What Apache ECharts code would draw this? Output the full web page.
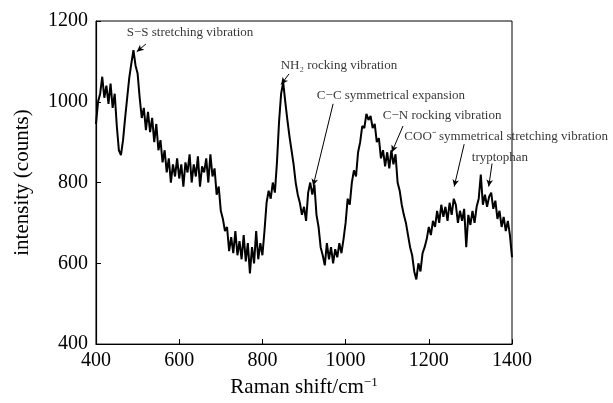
<!DOCTYPE html>
<html>
<head>
<meta charset="utf-8">
<script src="https://cdn.jsdelivr.net/npm/echarts@6/dist/echarts.min.js"></script>
<style>
  html, body { margin: 0; padding: 0; background: #fff; }
  #chart { width: 613px; height: 403px; }
</style>
</head>
<body>
<div id="chart"></div>
<script>
// Raman shift (cm-1) sample positions
const ramanShift = [
  400,405,410,415,420,425,430,435,440,445,450,455,460,465,470,475,480,485,490,495,
  500,505,510,515,520,525,530,535,540,545,550,555,560,565,570,575,580,585,590,595,
  600,605,610,615,620,625,630,635,640,645,650,655,660,665,670,675,680,685,690,695,
  700,705,710,715,720,725,730,735,740,745,750,755,760,765,770,775,780,785,790,795,
  800,805,810,815,820,825,830,835,840,845,850,855,860,865,870,875,880,885,890,895,
  900,905,910,915,920,925,930,935,940,945,950,955,960,965,970,975,980,985,990,995,
  1000,1005,1010,1015,1020,1025,1030,1035,1040,1045,1050,1055,1060,1065,1070,1075,1080,1085,1090,1095,
  1100,1105,1110,1115,1120,1125,1130,1135,1140,1145,1150,1155,1160,1165,1170,1175,1180,1185,1190,1195,
  1200,1205,1210,1215,1220,1225,1230,1235,1240,1245,1250,1255,1260,1265,1270,1275,1280,1285,1290,1295,
  1300,1305,1310,1315,1320,1325,1330,1335,1340,1345,1350,1355,1360,1365,1370,1375,1380,1385,1390,1395,
  1400
];
// intensity (counts)
const intensity = [
  945,1000,1020,1062,1010,1040,995,1045,985,1020,940,880,868,905,960,1010,1060,1095,1128,1090,
  1070,1010,960,985,930,975,925,960,900,945,880,905,850,880,825,860,800,845,815,860,
  810,845,790,850,825,870,800,845,815,865,790,840,825,860,800,870,815,835,770,790,
  730,710,680,690,630,665,625,680,620,655,610,670,605,650,575,640,600,680,610,650,
  620,680,750,780,760,800,775,850,950,1020,1048,1000,955,915,880,845,800,770,750,720,
  740,705,775,800,770,795,720,690,640,620,595,650,610,640,600,635,615,650,625,660,
  700,760,745,800,830,815,875,900,940,935,970,955,965,935,945,900,910,860,880,840,
  875,835,880,845,870,800,780,745,720,700,670,640,620,580,560,600,580,625,640,660,
  690,670,705,690,730,700,745,715,740,705,750,720,760,745,700,730,705,735,640,720,
  695,730,700,740,760,820,745,770,740,765,775,735,755,710,730,690,715,680,705,670,
  615
];

// annotations: label text, label position, arrow start, arrow end (data coords)
const annoText = [
  'S\u2212S stretching vibration',
  'NH\u2082 rocking vibration',
  'C\u2212C symmetrical expansion',
  'C\u2212N rocking vibration',
  'COO\u207B symmetrical stretching vibration',
  'tryptophan'
];
const annoPos = [[626, 1171], [984, 1090], [1109, 1016], [1232, 966], [1386, 914], [1371, 861]];
const arrowFrom = [[520, 1143], [864, 1069], [970, 995], [1138, 940], [1285, 895], [1352, 847]];
const arrowTo = [[498, 1124], [845, 1043], [922, 792], [1111, 875], [1261, 790], [1344, 790]];

const xTicks = [400, 1400, 200];
const yTicks = [400, 1200, 200];

const FONT = '"Liberation Serif", "Times New Roman", serif';

const chart = echarts.init(document.getElementById('chart'), null, { renderer: 'canvas' });

const spectrum = ramanShift.map((x, i) => [x, intensity[i]]);
const labels = annoPos.map((p, i) => [p[0], p[1], annoText[i]]);
const arrows = arrowFrom.map((p, i) => [{ coord: p }, { coord: arrowTo[i] }]);

const option = {
  animation: false,
  backgroundColor: '#fff',
  grid: {
    left: 96,
    top: 21,
    right: 101,
    bottom: 47,
    show: true,
    borderColor: '#000',
    borderWidth: 1,
  },
  xAxis: {
    type: 'value',
    min: xTicks[0],
    max: xTicks[1],
    interval: xTicks[2],
    name: '{a|Raman shift/cm}{s|\u22121}',
    nameLocation: 'middle',
    nameGap: 25,
    nameTextStyle: {
      rich: {
        a: { fontFamily: FONT, fontSize: 21, color: '#000', lineHeight: 22, verticalAlign: 'bottom' },
        s: { fontFamily: FONT, fontSize: 13, color: '#000', lineHeight: 22, verticalAlign: 'top', padding: [0, 0, 9, 0] },
      },
    },
    axisLine: { lineStyle: { color: '#000', width: 1.2 } },
    axisTick: { inside: true, length: 5, lineStyle: { color: '#000' } },
    axisLabel: { fontFamily: FONT, fontSize: 20, color: '#000', margin: 7, formatter: (v) => String(v) },
    splitLine: { show: false },
  },
  yAxis: {
    type: 'value',
    min: yTicks[0],
    max: yTicks[1],
    interval: yTicks[2],
    name: 'intensity (counts)',
    nameLocation: 'middle',
    nameGap: 63,
    nameTextStyle: { fontFamily: FONT, fontSize: 21, color: '#000' },
    axisLine: { lineStyle: { color: '#000', width: 1.2 } },
    axisTick: { inside: true, length: 5, lineStyle: { color: '#000' } },
    axisLabel: { fontFamily: FONT, fontSize: 20, color: '#000', margin: 8, formatter: (v) => String(v) },
    splitLine: { show: false },
  },
  series: [
    {
      name: 'spectrum',
      type: 'line',
      data: spectrum,
      symbol: 'none',
      lineStyle: { color: '#000', width: 2 },
      z: 2,
    },
    {
      name: 'annotations',
      type: 'scatter',
      data: labels,
      symbolSize: 0,
      clip: false,
      silent: true,
      label: {
        show: true,
        position: 'inside',
        formatter: (p) => p.value[2],
        fontFamily: FONT,
        fontSize: 13,
        color: '#000',
      },
      markLine: {
        silent: true,
        symbol: ['none', 'arrow'],
        symbolSize: [5, 7],
        label: { show: false },
        lineStyle: { color: '#000', width: 1, type: 'solid' },
        data: arrows,
      },
      z: 3,
    },
  ],
};

chart.setOption(option);
</script>
</body>
</html>
